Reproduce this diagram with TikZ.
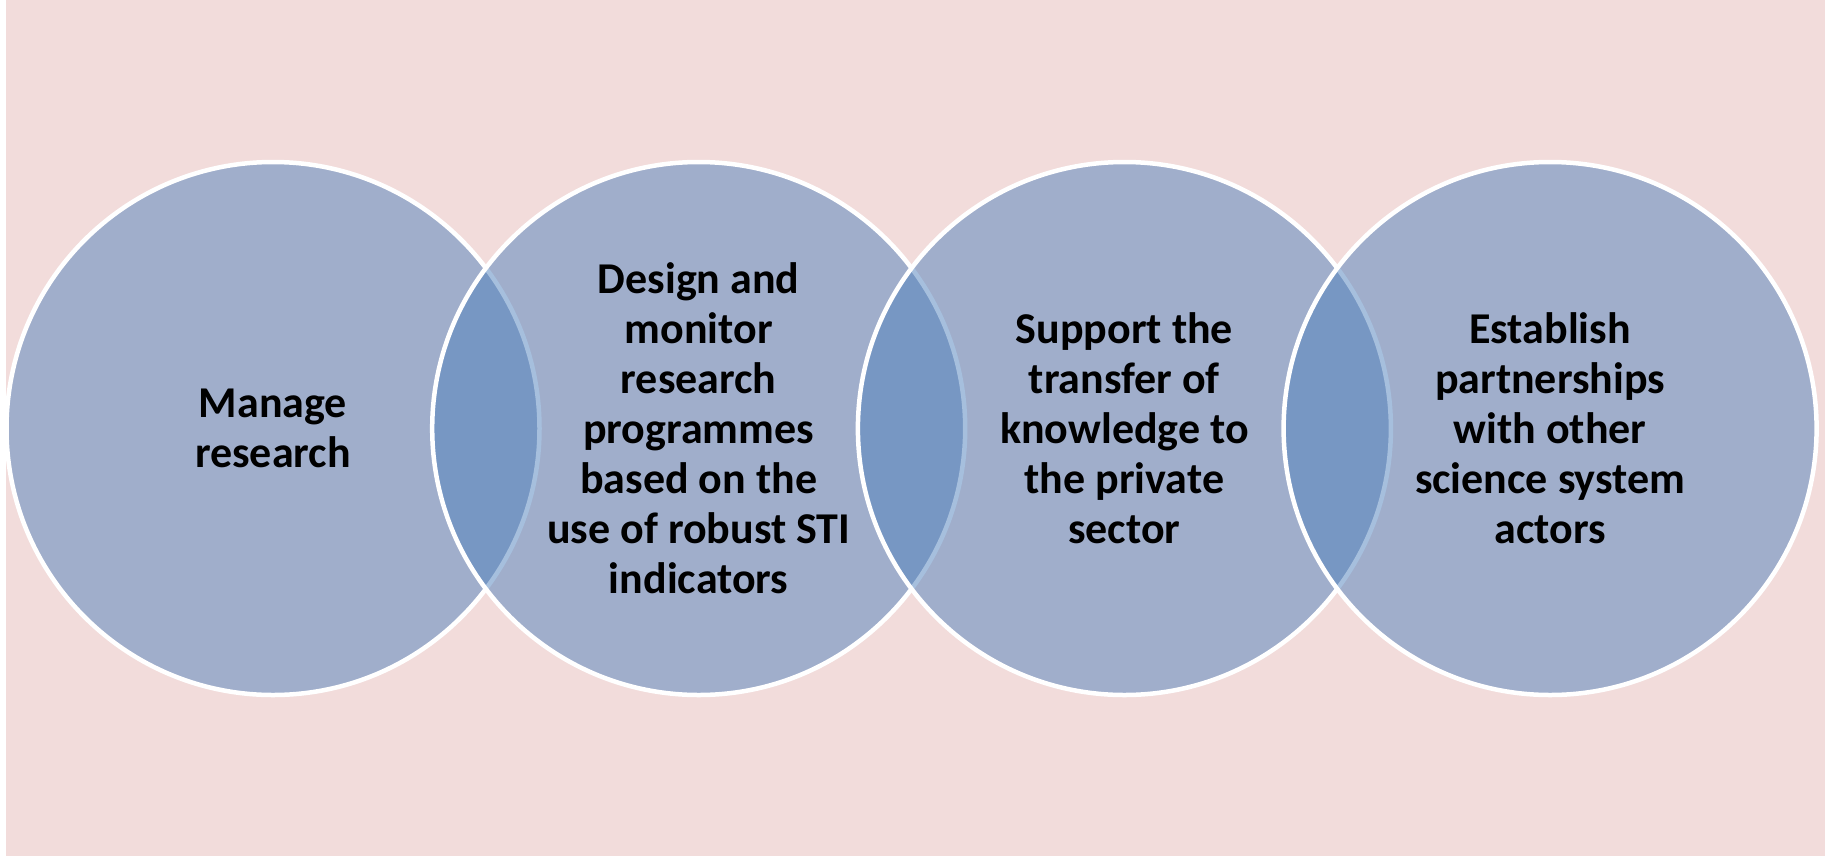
\documentclass[tikz,border=0pt]{standalone}
\usepackage{fontspec}
\setmainfont{Carlito}
\usetikzlibrary{positioning}

\definecolor{bgpink}{RGB}{242,220,219}
\definecolor{vennblue}{RGB}{79,129,189}

\tikzset{every picture/.style={line width=0.75pt}}
\tikzset{venn/.style={circle, inner sep=0pt, minimum size=533pt, draw=white, line width=4.5pt,
  fill=vennblue, fill opacity=0.5, text opacity=1, text=black, align=center,
  font=\bfseries\fontsize{44}{50}\selectfont}}

\begin{document}
\begin{tikzpicture}[x=1pt,y=1pt,yscale=-1,xscale=1]
\useasboundingbox (0,0) rectangle (1825,857);

%Shape: Rectangle (white strip)
\fill [white] (0,0) rectangle (1825,857);
%Shape: Rectangle (background)
\fill [bgpink] (6,0) rectangle (1825,856);

%Shape: Circle
\node [venn] (manage) at (273,428.5) {Manage\\research};
%Shape: Circle
\node [venn, right=-111.8pt of manage] (design) {Design and\\monitor\\research\\programmes\\based on the\\use of robust STI\\indicators};
%Shape: Circle
\node [venn, right=-111.8pt of design] (support) {Support the\\transfer of\\knowledge to\\the private\\sector};
%Shape: Circle
\node [venn, right=-111.8pt of support] (partner) {Establish\\partnerships\\with other\\science system\\actors};

\end{tikzpicture}
\end{document}
